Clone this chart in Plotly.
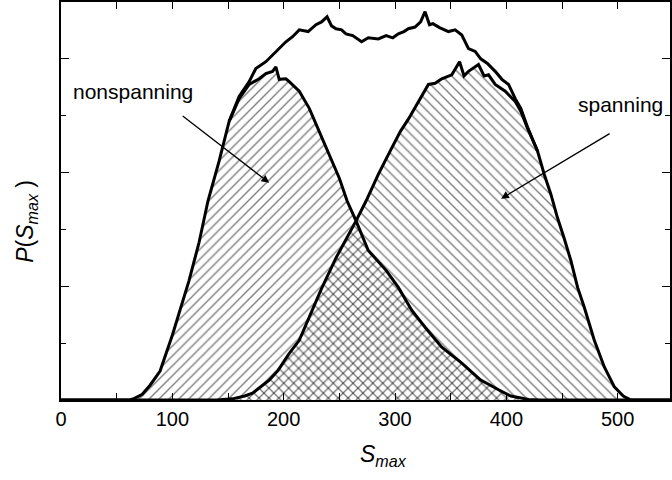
import plotly.graph_objects as go

# ---- data (P in arbitrary units) ----
ns_s = [0, 50, 62, 66, 73, 80, 89, 100, 108, 115, 124, 132, 142, 151, 160, 169, 178, 184, 190, 193,
        196, 202, 205, 214, 223, 232, 241, 250, 257, 265, 276, 292, 303, 315, 327, 342, 360, 377,
        393, 404, 420, 430, 550]
ns_p = [0, 0, 0, 0.03, 0.10, 0.26, 0.51, 1.14, 1.63, 2.10, 2.77, 3.50, 4.20, 4.90, 5.30, 5.55, 5.65,
        5.74, 5.78, 5.86, 5.64, 5.65, 5.60, 5.43, 5.13, 4.73, 4.32, 3.90, 3.50, 3.15, 2.63, 2.28,
        1.98, 1.58, 1.28, 0.93, 0.65, 0.35, 0.18, 0.07, 0.01, 0, 0]

sp_s = [0, 140, 154, 165, 172, 178, 187, 195, 205, 214, 223, 230, 234, 247, 259, 265, 274, 285, 297,
        305, 312, 321, 330, 336, 342, 351, 358, 362, 366, 375, 380, 384, 390, 399, 408, 413, 419,
        428, 434, 440, 446, 452, 458, 464, 470, 479, 488, 497, 505, 512, 550]
sp_p = [0, 0, 0.02, 0.07, 0.12, 0.21, 0.35, 0.52, 0.82, 1.05, 1.45, 1.75, 1.96, 2.50, 2.92, 3.15,
        3.50, 3.97, 4.43, 4.73, 4.94, 5.25, 5.55, 5.57, 5.65, 5.72, 5.95, 5.70, 5.78, 5.90, 5.70,
        5.72, 5.55, 5.43, 5.25, 5.08, 4.78, 4.38, 3.97, 3.62, 3.20, 2.84, 2.45, 1.98, 1.63, 1.05,
        0.58, 0.23, 0.07, 0, 0]

tot_s = [151, 160, 169, 175, 184, 193, 202, 208, 214, 222, 229, 234, 239, 243, 247, 252, 256, 262,
         270, 276, 285, 292, 298, 303, 308, 312, 318, 323, 327, 331, 334, 340, 348, 354, 360, 366,
         372, 377, 383, 390, 396, 402, 408, 413, 419, 428]
tot_p = [4.90, 5.34, 5.60, 5.83, 5.95, 6.13, 6.30, 6.39, 6.51, 6.48, 6.60, 6.65, 6.74, 6.58, 6.53,
         6.51, 6.44, 6.41, 6.30, 6.37, 6.35, 6.41, 6.37, 6.44, 6.48, 6.53, 6.56, 6.65, 6.83, 6.60,
         6.62, 6.55, 6.48, 6.51, 6.42, 6.18, 6.13, 6.00, 5.92, 5.78, 5.64, 5.55, 5.30, 5.13, 4.80,
         4.38]

x_ticks = [0, 50, 100, 150, 200, 250, 300, 350, 400, 450, 500]
x_tick_text = ["0", "", "100", "", "200", "", "300", "", "400", "", "500"]

FONT = "Liberation Sans, Arial, Helvetica, sans-serif"
CLEAR = "rgba(0,0,0,0)"

fig = go.Figure()
fig.add_trace(go.Scatter(
    x=ns_s, y=ns_p, mode="lines", fill="tozeroy", fillcolor=CLEAR,
    fillpattern=dict(shape="/", fgcolor="black", bgcolor=CLEAR, size=7, solidity=0.2),
    line=dict(color="black", width=3), showlegend=False, hoverinfo="skip"))
fig.add_trace(go.Scatter(
    x=sp_s, y=sp_p, mode="lines", fill="tozeroy", fillcolor=CLEAR,
    fillpattern=dict(shape="\\", fgcolor="black", bgcolor=CLEAR, size=7, solidity=0.2),
    line=dict(color="black", width=3), showlegend=False, hoverinfo="skip"))
fig.add_trace(go.Scatter(
    x=tot_s, y=tot_p, mode="lines",
    line=dict(color="black", width=3), showlegend=False, hoverinfo="skip"))

fig.update_layout(
    width=672, height=480,
    margin=dict(l=61, r=0, t=1, b=80),
    paper_bgcolor="white", plot_bgcolor="white",
    font=dict(family=FONT, size=20, color="black"),
    xaxis=dict(range=[0, 547], tickvals=x_ticks, ticktext=x_tick_text,
               ticks="inside", ticklen=7, tickwidth=1.3, tickcolor="black",
               showline=True, linecolor="black", linewidth=2, mirror="ticks",
               showgrid=False, zeroline=False, tickfont=dict(size=20)),
    yaxis=dict(range=[0, 7], dtick=2, tick0=0, showticklabels=False,
               ticks="inside", ticklen=8, tickwidth=1.3, tickcolor="black",
               minor=dict(dtick=1, tick0=0, ticks="inside", ticklen=5, tickwidth=1.3,
                          tickcolor="black", showgrid=False),
               showline=True, linecolor="black", linewidth=2, mirror="ticks",
               showgrid=False, zeroline=False),
    annotations=[
        dict(text="nonspanning", x=64.4, y=5.43, xref="x", yref="y", showarrow=False,
             font=dict(size=21)),
        dict(text="spanning", x=502.7, y=5.2, xref="x", yref="y", showarrow=False,
             font=dict(size=21)),
        dict(text="", x=187, y=3.82, xref="x", yref="y", ax=-88, ay=-68,
             showarrow=True, arrowhead=2, arrowsize=1.2, arrowwidth=1.3, arrowcolor="black"),
        dict(text="", x=395.3, y=3.54, xref="x", yref="y", ax=110, ay=-66,
             showarrow=True, arrowhead=2, arrowsize=1.2, arrowwidth=1.3, arrowcolor="black"),
        dict(text="<i>S<sub>max</sub></i>", x=(385 - 61) / 611, y=-0.14, xref="paper", yref="paper",
             showarrow=False, font=dict(size=23), xanchor="center", yanchor="middle"),
        dict(text="<i>P</i>(<i>S<sub>max</sub></i> )", x=-0.056, y=0.45, xref="paper",
             yref="paper", showarrow=False, textangle=-90, font=dict(size=23),
             xanchor="center", yanchor="middle"),
    ],
)

fig.write_html("out.html")
